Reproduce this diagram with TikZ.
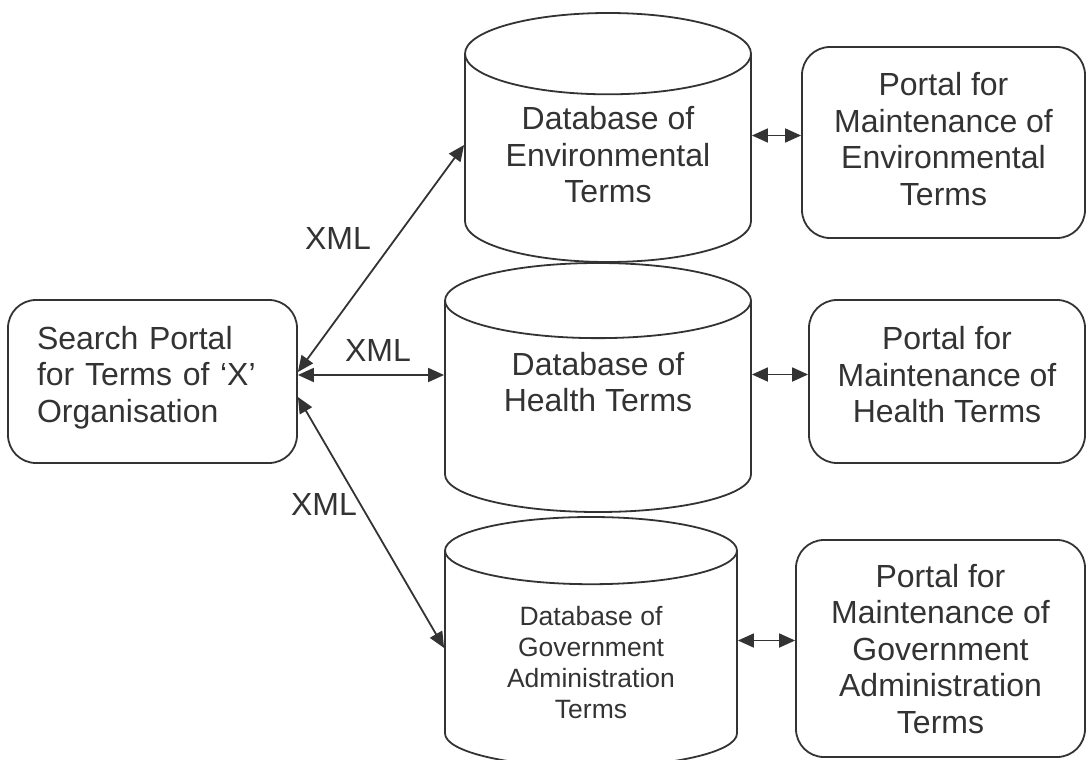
\documentclass[tikz,border=0pt]{standalone}
\usepackage{fontspec}
\setmainfont{Liberation Sans}
\usetikzlibrary{shapes.geometric,arrows.meta,positioning}

\definecolor{ink}{HTML}{333333}

\begin{document}
\begin{tikzpicture}[x=1pt,y=-1pt]
      \tikzstyle{portal}=[rectangle, rounded corners=28pt, draw=ink, line width=1.8pt, text=ink, align=center, font=\fontsize{32}{36.5}\selectfont]
      \tikzstyle{db}=[cylinder, shape border rotate=90, aspect=0.385, anchor=shape center, draw=ink, line width=1.8pt, text=ink, align=center, font=\fontsize{32}{36.5}\selectfont]
      \tikzstyle{link}=[{Triangle[length=16pt,width=14pt]}-{Triangle[length=16pt,width=14pt]}, draw=ink, line width=1.8pt]
      \tikzstyle{lbl}=[text=ink, font=\fontsize{32}{36}\selectfont, inner sep=0pt]

      \useasboundingbox (0,0) rectangle (1087,760);

      % search portal on the left
      \node[portal, align=left, text width=231pt, inner xsep=29pt, minimum height=163pt, text depth=88pt] (search) at (152.5,381.5) {Search Portal\\for Terms of ‘X’\\Organisation};

      % the three term databases (text depth lifts the lines inside the body)
      \node[db, minimum width=286pt, minimum height=249pt, text depth=16pt] (envdb) at (608,137.5) {Database of\\Environmental\\Terms};
      \node[db, minimum width=306pt, minimum height=249pt, text depth=57pt] (healthdb) at (598,387.5) {Database of\\Health Terms};
      \node[db, minimum width=292pt, minimum height=250pt, font=\fontsize{26.5}{31}\selectfont] (govdb) at (591,642) {Database of\\Government\\Administration\\Terms};

      % maintenance portals
      \node[portal, minimum width=283pt, minimum height=191pt, text depth=7pt] (envportal) at (943.5,142.5) {Portal for\\Maintenance of\\Environmental\\Terms};
      \node[portal, minimum width=276pt, minimum height=163pt, text depth=14pt] (healthportal) at (947,381.5) {Portal for\\Maintenance of\\Health Terms};
      \node[portal, minimum width=289pt, minimum height=217pt, text depth=-10pt] (govportal) at (940.5,648.5) {Portal for\\Maintenance of\\Government\\Administration\\Terms};

      \path ([yshift=9.5pt]search.east) edge [link] ([yshift=-7.5pt]envdb.shape center -| envdb.west);
      \path ([yshift=6.5pt]search.east) edge [link] ([yshift=6.5pt]search.east -| healthdb.west);
      \path ([yshift=-15.5pt]search.east) edge [link] ([yshift=-6pt]govdb.shape center -| govdb.west);

      \path ([yshift=7pt]envportal.west -| envdb.east) edge [link] ([yshift=7pt]envportal.west);
      \path ([yshift=7pt]healthportal.west -| healthdb.east) edge [link] ([yshift=7pt]healthportal.west);
      \path ([yshift=8pt]govportal.west -| govdb.east) edge [link] ([yshift=8pt]govportal.west);

      \node[lbl] (xmlenv) at (338,238) {XML};
      \node[lbl] (xmlhealth) at (378,350) {XML};
      \node[lbl] (xmlgov) at (324,504) {XML};
\end{tikzpicture}
\end{document}
